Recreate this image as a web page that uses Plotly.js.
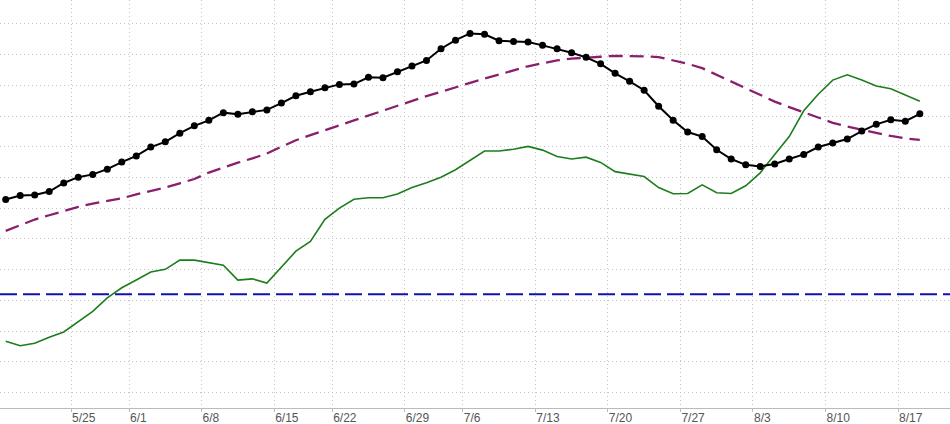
<!DOCTYPE html>
<html>
<head>
<meta charset="utf-8">
<script src="https://cdn.plot.ly/plotly-3.0.1.min.js"></script>
<style>
html,body{margin:0;padding:0;background:#fff;}
#chart{width:950px;height:424px;}
</style>
</head>
<body>
<div id="chart"></div>
<script>
// Trading days shown on the x axis
var dates = [
  '5/18','5/19','5/20','5/21','5/22',
  '5/26','5/27','5/28','5/29',
  '6/1','6/2','6/3','6/4','6/5',
  '6/8','6/9','6/10','6/11','6/12',
  '6/15','6/16','6/17','6/18',
  '6/22','6/23','6/24','6/25','6/26',
  '6/29','6/30','7/1','7/2',
  '7/6','7/7','7/8','7/9','7/10',
  '7/13','7/14','7/15','7/16','7/17',
  '7/20','7/21','7/22','7/23','7/24',
  '7/27','7/28','7/29','7/30','7/31',
  '8/3','8/4','8/5','8/6','8/7',
  '8/10','8/11','8/12','8/13','8/14',
  '8/17','8/18'
];

// Weekly tick labels and the first trading day of each labelled week
var tickLabels   = ['5/25','6/1','6/8','6/15','6/22','6/29','7/6','7/13','7/20','7/27','8/3','8/10','8/17'];
var tickFirstDay = ['5/26','6/1','6/8','6/15','6/22','6/29','7/6','7/13','7/20','7/27','8/3','8/10','8/17'];

// Main series (black, with markers)
var mainSeries = [
  6.28,6.41,6.43,6.54,6.82,7.01,7.10,7.27,7.50,7.70,
  7.99,8.16,8.44,8.68,8.86,9.11,9.06,9.14,9.20,9.42,
  9.66,9.79,9.92,10.03,10.04,10.26,10.25,10.44,10.63,10.81,
  11.19,11.47,11.69,11.66,11.45,11.43,11.41,11.30,11.19,11.06,
  10.91,10.70,10.39,10.13,9.84,9.32,8.86,8.48,8.33,7.90,
  7.60,7.41,7.36,7.44,7.60,7.75,7.99,8.12,8.25,8.51,
  8.73,8.88,8.83,9.07
];

// Smooth average (purple dashed)
var avgSeries = [
  5.26,5.44,5.63,5.77,5.91,6.04,6.15,6.24,6.32,6.45,
  6.56,6.67,6.81,6.95,7.16,7.33,7.48,7.62,7.78,8.00,
  8.21,8.38,8.54,8.71,8.87,9.03,9.18,9.34,9.49,9.65,
  9.79,9.94,10.08,10.22,10.35,10.48,10.62,10.72,10.81,10.87,
  10.91,10.93,10.96,10.96,10.94,10.92,10.82,10.70,10.56,10.34,
  10.13,9.92,9.68,9.47,9.29,9.12,8.94,8.78,8.66,8.55,
  8.44,8.35,8.27,8.22
];

// Secondary series (green)
var greenSeries = [
  1.67,1.52,1.60,1.80,1.97,2.32,2.64,3.08,3.41,3.66,
  3.92,4.01,4.31,4.31,4.23,4.14,3.66,3.70,3.56,4.08,
  4.60,4.92,5.64,6.00,6.29,6.34,6.34,6.46,6.67,6.83,
  7.01,7.25,7.55,7.86,7.86,7.92,8.01,7.89,7.68,7.60,
  7.66,7.49,7.19,7.11,7.03,6.67,6.47,6.48,6.76,6.50,
  6.48,6.73,7.15,7.75,8.33,9.17,9.71,10.17,10.34,10.17,
  9.98,9.89,9.69,9.48
];

// Reference level (blue dashed)
var referenceLevel = 3.2;

var xIdx = dates.map(function(d, i){ return i; });
var tickVals = tickFirstDay.map(function(d){ return dates.indexOf(d) - 0.5; });

var traces = [
  {
    x: xIdx, y: avgSeries, text: dates, type: 'scatter', mode: 'lines',
    line: {color: '#8a1f6e', width: 2.3, dash: '14px,7px'},
    hoverinfo: 'text+y'
  },
  {
    x: xIdx, y: greenSeries, text: dates, type: 'scatter', mode: 'lines',
    line: {color: '#1d7d1d', width: 1.6},
    hoverinfo: 'text+y'
  },
  {
    x: xIdx, y: mainSeries, text: dates, type: 'scatter', mode: 'lines+markers',
    line: {color: '#000000', width: 2},
    marker: {color: '#000000', size: 7},
    hoverinfo: 'text+y'
  }
];

var layout = {
  width: 950, height: 424,
  margin: {l: 0, r: 0, t: 0, b: 16},
  paper_bgcolor: '#ffffff',
  plot_bgcolor: '#ffffff',
  showlegend: false,
  font: {family: 'Liberation Sans Narrow, Liberation Sans, Arial, sans-serif', size: 12, color: '#555555'},
  xaxis: {
    range: [-0.393, 65.08],
    tickmode: 'array',
    tickvals: tickVals,
    ticktext: tickLabels,
    ticklabelposition: 'outside right',
    ticklabelstandoff: -1,
    ticks: 'outside', ticklen: 3, tickcolor: '#bbbbbb',
    showgrid: true, gridcolor: '#c4c4c4', griddash: '1px,3px', gridwidth: 1,
    showline: true, linecolor: '#bbbbbb', linewidth: 1,
    zeroline: false,
    tickfont: {family: 'Liberation Sans Narrow, Liberation Sans, Arial, sans-serif', size: 12, color: '#555555'}
  },
  yaxis: {
    range: [-0.505, 12.777],
    tickmode: 'linear', tick0: 0, dtick: 1,
    showticklabels: false,
    ticks: '',
    showgrid: true, gridcolor: '#c4c4c4', griddash: '1px,3px', gridwidth: 1,
    zeroline: false, showline: false
  },
  shapes: [
    {
      type: 'line', xref: 'paper', x0: 0, x1: 1, yref: 'y',
      y0: referenceLevel, y1: referenceLevel,
      line: {color: '#1010b0', width: 2, dash: '17px,6px'},
      layer: 'above'
    }
  ]
};

Plotly.newPlot('chart', traces, layout, {displayModeBar: false, staticPlot: true});
</script>
</body>
</html>
